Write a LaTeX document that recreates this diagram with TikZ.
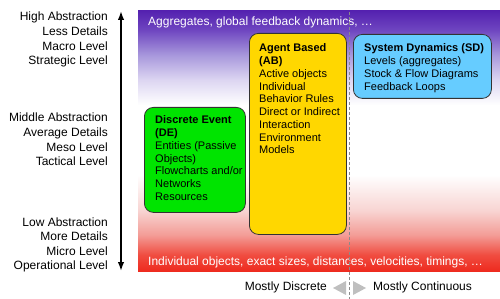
\documentclass[tikz,border=0pt]{standalone}
\usepackage{fontspec}
\setmainfont{Liberation Sans}
\usetikzlibrary{arrows.meta}
\definecolor{purD}{HTML}{5522B0}
\definecolor{purA}{HTML}{6E45C0}
\definecolor{purB}{HTML}{A898DC}
\definecolor{purC}{HTML}{DDD6F2}
\definecolor{redD}{HTML}{EE2B1F}
\definecolor{redA}{HTML}{F04C40}
\definecolor{redB}{HTML}{F39C96}
\definecolor{redC}{HTML}{F8D5D3}
\definecolor{deGreen}{HTML}{00E400}
\definecolor{abYellow}{HTML}{FFD700}
\definecolor{sdBlue}{HTML}{66CCFF}
\definecolor{triGray}{HTML}{BFBFBF}
\definecolor{dGray}{HTML}{8A8A8A}
\pgfdeclareverticalshading{bgshade}{100bp}{color(0bp)=(redD); color(25bp)=(redD); color(28.1bp)=(redA); color(31.9bp)=(redB); color(36.7bp)=(redC); color(43.5bp)=(white); color(56.9bp)=(white); color(61.7bp)=(purC); color(66.5bp)=(purB); color(71.4bp)=(purA); color(75bp)=(purD); color(100bp)=(purD)}
\begin{document}
\begin{tikzpicture}[x=1pt,y=-1pt,
  lbl/.style={font=\fontsize{12}{14}\selectfont, inner sep=0pt, anchor=base east},
  bx/.style={draw=black!80, line width=0.8pt, rounded corners=9pt, inner sep=0pt, anchor=north west},
  bt/.style={font=\fontsize{11}{13}\selectfont, inner sep=0pt, anchor=base west},
  wt/.style={font=\fontsize{12}{14}\selectfont, text=white, inner sep=0pt, anchor=base west},
  tri/.style={fill=triGray, draw=none}]
\useasboundingbox (0,0) rectangle (500,299);
\shade[shading=bgshade] (138,11) rectangle (500,271);

% left labels
\foreach \t/\yy [count=\i] in {High Abstraction/21, Less Details/35.6, Macro Level/50.2, Strategic Level/64.8,
  Middle Abstraction/122, Average Details/136.6, Meso Level/151.2, Tactical Level/165.8,
  Low Abstraction/226, More Details/240.6, Micro Level/255.2, Operational Level/269.8}
  \node[lbl] (lab\i) at (108,\yy) {\t};

% vertical arrow
\coordinate (atop) at (121,11);
\coordinate (abot) at (121,271);
\draw[line width=1.6pt, {Latex[length=9pt,width=6.5pt]}-{Latex[length=9pt,width=6.5pt]}] (atop) -- (abot);

% band texts
\node[wt] (toptext) at (148,26) {Aggregates, global feedback dynamics, …};
\node[wt] (bottext) at (148,265) {Individual objects, exact sizes, distances, velocities, timings, …};

% dashed divider
\coordinate (dtop) at (349,12);
\coordinate (dbot) at (349,299);
\draw[dGray, line width=0.9pt, dash pattern=on 3pt off 2pt] (dtop) -- (dbot);

% boxes
\node[bx, fill=deGreen, minimum width=101pt, minimum height=105pt] (de) at (144,107) {};
\node[bx, fill=abYellow, minimum width=97pt, minimum height=201pt] (ab) at (249,33) {};
\node[bx, fill=sdBlue, minimum width=138pt, minimum height=64pt] (sd) at (353,34) {};

\foreach \t [count=\i from 0] in {{\bfseries Discrete Event},{\bfseries (DE)},{Entities (Passive},{Objects)},{Flowcharts and/or},{Networks},{Resources}}
  \node[bt] (det\i) at (155,{124+12.75*\i}) {\t};
\foreach \t [count=\i from 0] in {{\bfseries Agent Based},{\bfseries (AB)},{Active objects},{Individual},{Behavior Rules},{Direct or Indirect},{Interaction},{Environment},{Models}}
  \node[bt] (abt\i) at (259,{52+12.75*\i}) {\t};
\foreach \t [count=\i from 0] in {{\bfseries System Dynamics (SD)},{Levels (aggregates)},{Stock \& Flow Diagrams},{Feedback Loops}}
  \node[bt] (sdt\i) at (364,{52+12.75*\i}) {\t};

% bottom axis
\node[lbl] (mdisc) at (327,290) {Mostly Discrete};
\node[lbl, anchor=base west] (mcont) at (373,290) {Mostly Continuous};
\fill[tri] (333,288) -- (346,281) -- (346,295) -- cycle;
\fill[tri] (366,288) -- (353,281) -- (353,295) -- cycle;
\end{tikzpicture}
\end{document}
